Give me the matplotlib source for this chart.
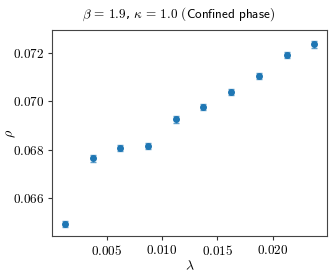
import numpy as np
import matplotlib
matplotlib.use("Agg")
import matplotlib.pyplot as plt
from matplotlib.ticker import FormatStrFormatter

plt.rcParams['mathtext.fontset'] = 'cm'

lam = [0.00125, 0.00375, 0.00625, 0.00875, 0.01125, 0.01375, 0.01625, 0.01875, 0.02125, 0.02375]
rho = [0.06492, 0.06763, 0.06805, 0.06815, 0.06925, 0.06977, 0.07038, 0.07107, 0.07193, 0.07237]
err = [0.00012, 0.00015, 0.00013, 0.00013, 0.00013, 0.00013, 0.00013, 0.00012, 0.00013, 0.00014]

fig, ax = plt.subplots(figsize=(3.33, 2.73), dpi=100)
ax.errorbar(lam, rho, yerr=err, fmt='o', color='tab:blue', markersize=4,
            capsize=2, elinewidth=1, ecolor=(0.12, 0.47, 0.71, 0.7))

ax.set_xlim(0.0001, 0.0249)
ax.set_ylim(0.0644, 0.07297)
ax.set_xticks([0.005, 0.010, 0.015, 0.020])
ax.set_yticks([0.066, 0.068, 0.070, 0.072])
ax.xaxis.set_major_formatter(FormatStrFormatter('$%.3f$'))
ax.yaxis.set_major_formatter(FormatStrFormatter('$%.3f$'))
ax.tick_params(labelsize=9.5, length=3, width=0.8, color='#333333', pad=2.5)
for s in ax.spines.values():
    s.set_color('#444444')
    s.set_linewidth(0.8)

ax.set_xlabel(r'$\lambda$', fontsize=10, labelpad=1)
ax.set_ylabel(r'$\rho$', fontsize=10)
ax.yaxis.set_label_coords(-0.125, 0.5)
ax.set_title(r'$\beta\,=\,1.9$, $\kappa\,=\,1.0$ $\mathsf{(Confined\ phase)}$', fontsize=9.5, pad=9, x=0.46)

fig.subplots_adjust(left=0.157, right=0.982, top=0.89, bottom=0.135)
fig.savefig('out.png', dpi=100)
